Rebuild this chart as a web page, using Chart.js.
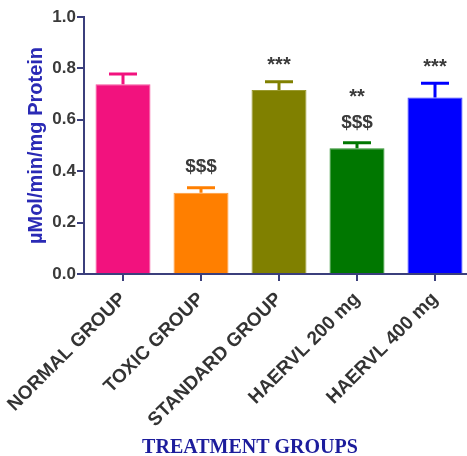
<!DOCTYPE html>
<html>
<head>
<meta charset="utf-8">
<script src="https://cdn.jsdelivr.net/npm/chart.js@4/dist/chart.umd.min.js"></script>
<style>
  html, body { margin: 0; padding: 0; background: #fff; overflow: hidden; }
  #wrap { width: 480px; height: 456px; }
</style>
</head>
<body>
<div id="wrap"><canvas id="chart" width="480" height="456"></canvas></div>
<script>
// data
const groups = ['NORMAL GROUP', 'TOXIC GROUP', 'STANDARD GROUP', 'HAERVL 200 mg', 'HAERVL 400 mg'];
const means = [0.738, 0.316, 0.716, 0.489, 0.687];
const sem = [0.040, 0.020, 0.032, 0.022, 0.055];
const marks = [[], ['$$$'], ['***'], ['$$$', '**'], ['***']];   // bottom line first
const barColors = ['#f2127e', '#ff7f00', '#808000', '#007700', '#0000ff'];
const edgeColors = ['#f7529e', '#ff9a3a', '#9a9a30', '#2a902a', '#3a3aff'];

const navy = '#3b3f7c';

// error bars (upper only), significance marks, x title
const extras = {
  id: 'extras',
  afterDatasetsDraw(c) {
    const ctx = c.ctx;
    const x = c.scales.x, y = c.scales.y;
    ctx.save();
    groups.forEach((g, i) => {
      const px = x.getPixelForValue(i);
      const top = y.getPixelForValue(means[i]);
      const et = y.getPixelForValue(means[i] + sem[i]);
      ctx.strokeStyle = barColors[i];
      ctx.lineWidth = 3;
      ctx.beginPath();
      ctx.moveTo(px, top);
      ctx.lineTo(px, et);
      ctx.moveTo(px - 14, et);
      ctx.lineTo(px + 14, et);
      ctx.stroke();

      ctx.fillStyle = '#3a3a3a';
      ctx.textAlign = 'center';
      ctx.textBaseline = 'alphabetic';
      let cy = et - 22;
      marks[i].forEach(m => {
        const star = m[0] === '*';
        const fs = star ? 20 : 19;
        ctx.font = 'bold ' + fs + 'px "Liberation Sans", Arial, sans-serif';
        ctx.fillText(m, px, cy + (star ? 0.58 : 0.36) * fs);
        cy -= 29;
      });
    });
    ctx.fillStyle = '#1c1c9c';
    ctx.font = 'bold 20px "Liberation Serif", "Times New Roman", serif';
    ctx.textAlign = 'center';
    ctx.textBaseline = 'middle';
    ctx.fillText('TREATMENT GROUPS', 250, 448);
    ctx.restore();
  }
};

new Chart(document.getElementById('chart'), {
  type: 'bar',
  data: {
    labels: groups,
    datasets: [{
      data: means,
      backgroundColor: barColors,
      borderColor: edgeColors,
      borderWidth: 1,
      barPercentage: 0.705,
      categoryPercentage: 1
    }]
  },
  options: {
    responsive: false,
    animation: false,
    layout: { padding: { top: 17, right: 6, left: 0, bottom: 0 } },
    plugins: { legend: { display: false }, tooltip: { enabled: false } },
    scales: {
      x: {
        offset: true,
        grid: { display: true, drawOnChartArea: false, offset: false, tickLength: 7, color: navy, lineWidth: 2 },
        border: { color: navy, width: 2 },
        ticks: {
          color: '#333',
          font: { family: '"Liberation Sans", Arial, sans-serif', size: 19, weight: 'bold' },
          minRotation: 45, maxRotation: 45, padding: 7, autoSkip: false
        },
        afterFit(s) { s.height = 182; s.paddingLeft = 0; s.paddingRight = 0; }
      },
      y: {
        min: 0, max: 1,
        grid: { display: true, drawOnChartArea: false, tickLength: 7, color: navy, lineWidth: 2 },
        border: { color: navy, width: 2 },
        ticks: {
          stepSize: 0.2,
          color: '#3a3a3a',
          padding: 1,
          font: { family: '"Liberation Sans", Arial, sans-serif', size: 17, weight: 'bold' },
          callback: v => v.toFixed(1)
        },
        title: {
          display: true,
          text: 'µMol/min/mg Protein',
          color: '#2a2ab5',
          padding: { top: 24, bottom: 0 },
          font: { family: '"Liberation Sans", Arial, sans-serif', size: 20, weight: 'bold' }
        },
        afterFit(s) { s.width = 84; }
      }
    }
  },
  plugins: [extras]
});
</script>
</body>
</html>
